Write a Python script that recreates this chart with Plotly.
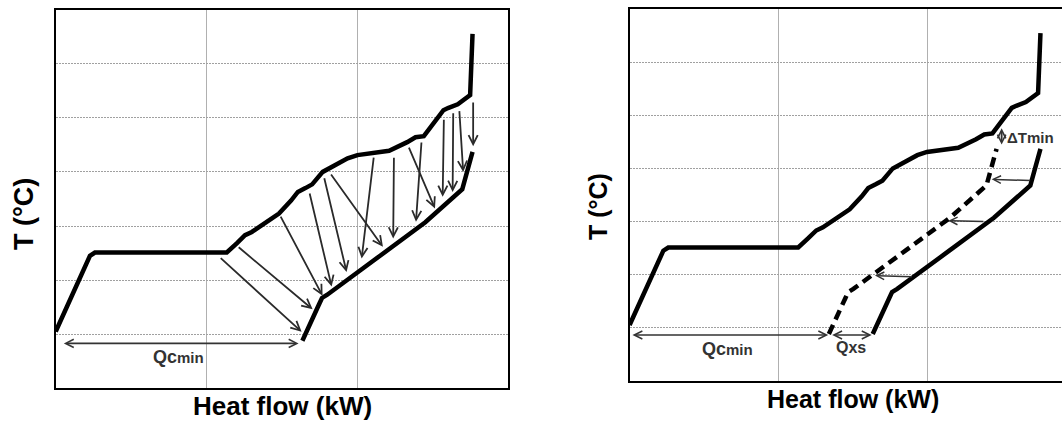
import plotly.graph_objects as go

# ---------------- data (Q = heat flow, T = temperature; arbitrary units) ----------------
HOT_Q = [0.0, 0.227, 0.26, 1.134, 1.20, 1.255, 1.30, 1.48, 1.56, 1.605, 1.655, 1.70, 1.77,
         1.85, 1.935, 2.0, 2.21, 2.33, 2.385, 2.44, 2.57, 2.60, 2.64, 2.665, 2.747, 2.763]
HOT_T = [1.05, 2.45, 2.51, 2.51, 2.68, 2.83, 2.89, 3.23, 3.47, 3.63, 3.70, 3.77, 4.00,
         4.12, 4.25, 4.31, 4.39, 4.55, 4.64, 4.66, 5.14, 5.18, 5.23, 5.25, 5.42, 6.55]

COLD_Q = [1.635, 1.695, 1.745, 1.765, 1.80, 2.15, 2.45, 2.695, 2.725, 2.763]
COLD_T = [0.88, 1.22, 1.55, 1.67, 1.73, 2.45, 3.07, 3.68, 3.97, 4.37]

SHIFTED_COLD_Q = [1.34, 1.40, 1.45, 1.47, 1.505, 1.855, 2.155, 2.40, 2.43, 2.468]
SHIFTED_COLD_T = [0.88, 1.22, 1.55, 1.67, 1.73, 2.45, 3.07, 3.68, 3.97, 4.37]

# heat-transfer arrows, left panel (from hot curve to cold curve)
L_ARROW_Q0 = [1.084, 1.203, 1.486, 1.681, 1.778, 1.818, 2.109, 2.242, 2.337, 2.425, 2.573, 2.635, 2.675, 2.767]
L_ARROW_T0 = [2.43, 2.63, 3.20, 3.63, 3.91, 3.98, 4.29, 4.29, 4.475, 4.57, 4.99, 5.11, 5.15, 5.31]
L_ARROW_Q1 = [1.630, 1.703, 1.769, 1.829, 1.928, 2.169, 2.028, 2.237, 2.514, 2.388, 2.565, 2.631, 2.701, 2.767]
L_ARROW_T1 = [1.045, 1.46, 1.71, 1.88, 2.15, 2.615, 2.40, 2.77, 3.325, 3.08, 3.54, 3.63, 4.00, 4.475]

# shift arrows, right panel (from cold curve to shifted cold curve)
R_ARROW_Q0 = [2.704, 2.39, 1.908]
R_ARROW_T0 = [3.77, 3.00, 1.96]
R_ARROW_Q1 = [2.435, 2.143, 1.650]
R_ARROW_T1 = [3.795, 3.015, 1.98]

# dimension markers
L_QCMIN = (0.044, 1.61, 0.83)        # q start, q end, T
R_QCMIN = (0.009, 1.336, 0.861)
R_QXS = (1.352, 1.628, 0.861)
R_DTMIN = (2.502, 4.42, 4.756)       # q, T low, T high

X_TITLE = "Heat flow (kW)"
Y_TITLE = "T (°C)"

FONT = "Liberation Sans, Arial, sans-serif"
W, H = 1062, 423


def px(xp):
    return xp / W


def py(yp):
    return 1 - yp / H


fig = go.Figure()

line_main = dict(color="black", width=4.5)
# left panel
fig.add_trace(go.Scatter(x=HOT_Q, y=HOT_T, mode="lines", line=line_main, xaxis="x", yaxis="y"))
fig.add_trace(go.Scatter(x=COLD_Q, y=COLD_T, mode="lines", line=line_main, xaxis="x", yaxis="y"))
# right panel
fig.add_trace(go.Scatter(x=HOT_Q, y=HOT_T, mode="lines", line=line_main, xaxis="x2", yaxis="y2"))
fig.add_trace(go.Scatter(x=COLD_Q, y=COLD_T, mode="lines", line=line_main, xaxis="x2", yaxis="y2"))
fig.add_trace(go.Scatter(x=SHIFTED_COLD_Q, y=SHIFTED_COLD_T, mode="lines",
                         line=dict(color="black", width=4.5, dash="10px,6px"),
                         xaxis="x2", yaxis="y2"))

ann = []
ARR = dict(showarrow=True, text="", arrowhead=5, arrowsize=1.0, arrowwidth=1.8,
           arrowcolor="#2a2a2a", standoff=0, startstandoff=0)

for q0, t0, q1, t1 in zip(L_ARROW_Q0, L_ARROW_T0, L_ARROW_Q1, L_ARROW_T1):
    ann.append(dict(x=q1, y=t1, ax=q0, ay=t0, xref="x", yref="y", axref="x", ayref="y", **ARR))
for q0, t0, q1, t1 in zip(R_ARROW_Q0, R_ARROW_T0, R_ARROW_Q1, R_ARROW_T1):
    ann.append(dict(x=q1, y=t1, ax=q0, ay=t0, xref="x2", yref="y2", axref="x2", ayref="y2",
                    **dict(ARR, arrowwidth=1.5, arrowcolor="#333333")))

DBL = dict(ARR, arrowside="end+start", startarrowhead=5, startarrowsize=1.0,
           arrowwidth=1.6, arrowcolor="#333333")
ann.append(dict(x=L_QCMIN[1], y=L_QCMIN[2], ax=L_QCMIN[0], ay=L_QCMIN[2],
                xref="x", yref="y", axref="x", ayref="y", **DBL))
ann.append(dict(x=R_QCMIN[1], y=R_QCMIN[2], ax=R_QCMIN[0], ay=R_QCMIN[2],
                xref="x2", yref="y2", axref="x2", ayref="y2", **DBL))
ann.append(dict(x=R_QXS[1], y=R_QXS[2], ax=R_QXS[0], ay=R_QXS[2],
                xref="x2", yref="y2", axref="x2", ayref="y2", **DBL))
ann.append(dict(x=R_DTMIN[0], y=R_DTMIN[2], ax=R_DTMIN[0], ay=R_DTMIN[1],
                xref="x2", yref="y2", axref="x2", ayref="y2",
                **dict(DBL, arrowsize=0.9, startarrowsize=0.9, arrowwidth=1.8)))

LBL = dict(showarrow=False, font=dict(family=FONT, size=18, color="#333333"))
qc_text = "<b>Qc<span style='font-size:15px'>min</span></b>"
ann.append(dict(x=(L_QCMIN[0] + L_QCMIN[1]) / 2 - 0.01, y=L_QCMIN[2], xref="x", yref="y",
                text=qc_text, yanchor="top", yshift=-2, **LBL))
ann.append(dict(x=0.655, y=R_QCMIN[2], xref="x2", yref="y2",
                text=qc_text, yanchor="top", yshift=-2, **LBL))
ann.append(dict(x=(R_QXS[0] + R_QXS[1]) / 2, y=R_QXS[2], xref="x2", yref="y2",
                text="<b>Qxs</b>", yanchor="top", yshift=-2,
                showarrow=False, font=dict(family=FONT, size=16, color="#333333")))
ann.append(dict(x=R_DTMIN[0] + 0.02, y=(R_DTMIN[1] + R_DTMIN[2]) / 2, xref="x2", yref="y2",
                text="<b>ΔTmin</b>", xanchor="left", yanchor="middle",
                showarrow=False, font=dict(family=FONT, size=15, color="#333333")))

# axis titles (positions in page pixels)
TF = dict(family=FONT, color="black")
ann.append(dict(x=px(282), y=py(406), xref="paper", yref="paper", text="<b>" + X_TITLE + "</b>",
                showarrow=False, xanchor="center", yanchor="middle", font=dict(TF, size=26)))
ann.append(dict(x=px(852.5), y=py(399), xref="paper", yref="paper", text="<b>" + X_TITLE + "</b>",
                showarrow=False, xanchor="center", yanchor="middle", font=dict(TF, size=25)))
ann.append(dict(x=px(24), y=py(214), xref="paper", yref="paper", text="<b>" + Y_TITLE + "</b>",
                textangle=-90, showarrow=False, xanchor="center", yanchor="middle", font=dict(TF, size=27)))
ann.append(dict(x=px(598), y=py(207), xref="paper", yref="paper", text="<b>" + Y_TITLE + "</b>",
                textangle=-90, showarrow=False, xanchor="center", yanchor="middle", font=dict(TF, size=25)))

xgrid = dict(showgrid=True, gridcolor="#b0b0b0", gridwidth=1, dtick=1, tick0=0,
             showticklabels=False, ticks="", zeroline=False, fixedrange=True)
ygrid = dict(showgrid=True, gridcolor="#a0a0a0", gridwidth=1.2, griddash="2px,1px", dtick=1, tick0=0,
             showticklabels=False, ticks="", zeroline=False, fixedrange=True)

fig.update_layout(
    width=W, height=H, margin=dict(l=0, r=0, t=0, b=0),
    paper_bgcolor="white", plot_bgcolor="white", showlegend=False,
    xaxis=dict(xgrid, domain=[px(55.7), px(508.3)], range=[0, 3], anchor="y",
               showline=True, linecolor="black", linewidth=2, mirror=True),
    yaxis=dict(ygrid, domain=[py(388.3), py(9.6)], range=[0, 7], anchor="x",
               showline=True, linecolor="black", linewidth=2, mirror=True),
    xaxis2=dict(xgrid, domain=[px(629.6), 1.0], range=[0, (W - 629.6) / 148.7], anchor="y2",
                showline=True, linecolor="black", linewidth=2, mirror=True),
    yaxis2=dict(ygrid, domain=[py(380.7), py(9.2)], range=[0, 7], anchor="x2",
                showline=True, linecolor="black", linewidth=2, mirror=False),
    annotations=ann,
)

fig.write_html(
    "out.html",
    config={"displayModeBar": False},
    post_script="document.body.style.margin='0';document.body.style.overflow='hidden';",
)
